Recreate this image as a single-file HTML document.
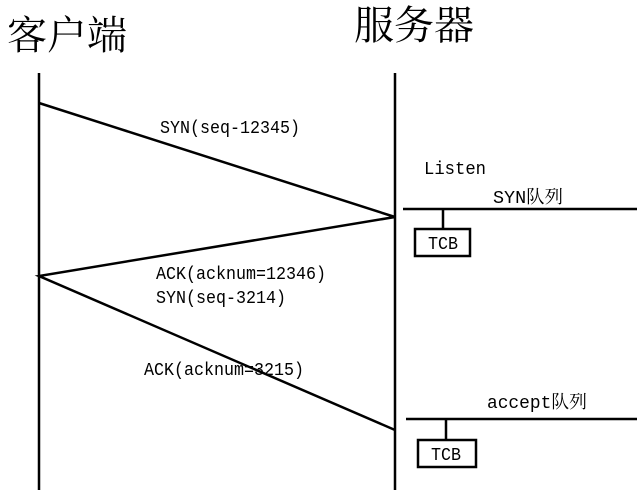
<!DOCTYPE html>
<html><head><meta charset="utf-8"><style>
html,body{margin:0;padding:0;background:#fff;}
svg{display:block}
.t{font-family:"Liberation Mono","Noto Serif CJK SC",monospace;font-size:18px;fill:#000}
.c{font-family:"Liberation Serif","Noto Serif CJK SC","Noto Sans CJK SC",serif;font-size:40px;fill:#000}
</style></head><body>
<svg width="637" height="500" viewBox="0 0 637 500" xmlns="http://www.w3.org/2000/svg">
<text class="c" x="7" y="49">客户端</text>
<text class="c" x="354" y="39">服务器</text>
<g stroke="#000" stroke-width="2.5" fill="none">
<line x1="39" y1="73" x2="39" y2="490"/>
<line x1="395" y1="73" x2="395" y2="490"/>
<polyline points="39,103 395,217 39,276 395,430"/>
<line x1="403" y1="209" x2="637" y2="209"/>
<line x1="443" y1="209" x2="443" y2="229"/>
<rect x="415" y="229" width="55" height="27"/>
<line x1="406" y1="419" x2="637" y2="419"/>
<line x1="446" y1="419" x2="446" y2="440"/>
<rect x="418" y="440" width="58" height="27"/>
</g>
<text class="t" x="160" y="133" textLength="140" lengthAdjust="spacingAndGlyphs">SYN(seq-12345)</text>
<text class="t" x="424" y="174" textLength="62" lengthAdjust="spacingAndGlyphs">Listen</text>
<text class="t" x="493" y="203" textLength="70" lengthAdjust="spacingAndGlyphs">SYN队列</text>
<text class="t" x="428" y="249" textLength="30" lengthAdjust="spacingAndGlyphs">TCB</text>
<text class="t" x="156" y="279" textLength="170" lengthAdjust="spacingAndGlyphs">ACK(acknum=12346)</text>
<text class="t" x="156" y="303" textLength="130" lengthAdjust="spacingAndGlyphs">SYN(seq-3214)</text>
<text class="t" x="144" y="375" textLength="160" lengthAdjust="spacingAndGlyphs">ACK(acknum=3215)</text>
<text class="t" x="487" y="408" textLength="100" lengthAdjust="spacingAndGlyphs">accept队列</text>
<text class="t" x="431" y="460" textLength="30" lengthAdjust="spacingAndGlyphs">TCB</text>
</svg>
</body></html>
